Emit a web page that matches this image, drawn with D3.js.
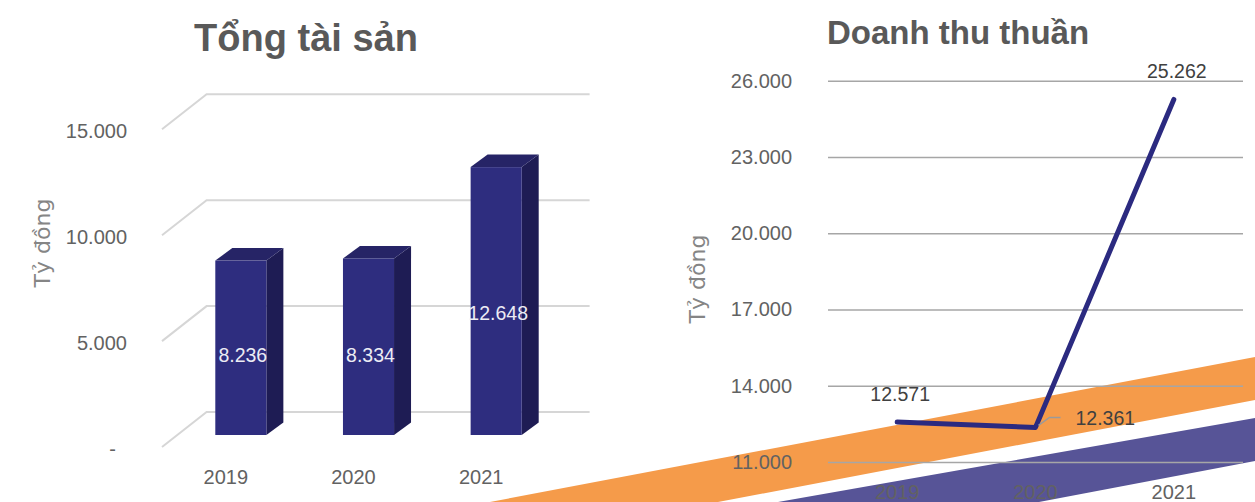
<!DOCTYPE html>
<meta charset="utf-8">
<style>

body {
  margin: 0;
  background: #fff;
}

text {
  font-family: "Liberation Sans", Arial, sans-serif;
}

.tick text {
  font-size: 20px;
  fill: #626262;
}

.chart-title {
  font-weight: bold;
  fill: #595959;
}

.axis-title {
  font-family: "DejaVu Sans", sans-serif;
  font-size: 22px;
  fill: #858585;
}

</style>
<svg width="1255" height="502"></svg>
<script src="https://cdn.jsdelivr.net/npm/d3@7"></script>
<script>
const years = ["2019", "2020", "2021"]

// Tổng tài sản (tỷ đồng)
const totalAssets = [8236, 8334, 12648]
const assetTicks = [0, 5000, 10000, 15000]

// Doanh thu thuần (tỷ đồng)
const revenue = [12571, 12361, 25262]
const revenueTicks = [11000, 14000, 17000, 20000, 23000, 26000]
const revenueLabelSide = ["above", "right", "above"]

const vn = d3.formatLocale({decimal: ",", thousands: ".", grouping: [3], currency: ["", ""]})
const fmt = vn.format(",d")

var svg = d3.select("svg")

// decorative stripes in the background
const stripe = d3.line()
svg.append("path")
    .attr("d", stripe([[490, 502], [1255, 357], [1255, 400], [718, 502]]) + "Z")
    .attr("fill", "#f59b4a")
svg.append("path")
    .attr("d", stripe([[778, 502], [1255, 418], [1255, 461], [1039, 502]]) + "Z")
    .attr("fill", "#575497")

// ---------- left: 3d column chart ----------
const backOff = [29.6, -23]   // bar plane -> back wall
const frontOff = [-15, 12]    // bar plane -> front edge of floor
const depth = [17, -12.5]     // thickness of each column

var xb = d3.scaleBand()
    .domain(years)
    .range([177, 560])
    .paddingInner(0.6)
    .paddingOuter(0.3)

var yb = d3.scaleLinear()
    .domain([0, 15000])
    .range([435, 117.3])

const left = svg.append("g")

left.append("text")
    .attr("class", "chart-title")
    .attr("x", 306)
    .attr("y", 51)
    .attr("text-anchor", "middle")
    .style("font-size", "38px")
    .text("Tổng tài sản")

// gridlines: diagonal on the floor side, then flat along the back wall
const x0 = xb.range()[0], x1 = xb.range()[1]
left.append("g")
  .selectAll("path")
  .data(assetTicks)
  .join("path")
    .attr("d", t => d3.line()([
      [x0 + frontOff[0], yb(t) + frontOff[1]],
      [x0 + backOff[0], yb(t) + backOff[1]],
      [x1 + backOff[0], yb(t) + backOff[1]]
    ]))
    .attr("fill", "none")
    .attr("stroke", "#d6d6d6")
    .attr("stroke-width", 2)

left.append("g")
    .attr("class", "tick")
  .selectAll("text")
  .data(assetTicks)
  .join("text")
    .attr("x", 127)
    .attr("y", t => yb(t) + frontOff[1] + 2)
    .attr("dy", "0.35em")
    .attr("text-anchor", "end")
    .text(t => t === 0 ? "-\u2007" : fmt(t))

left.append("g")
    .attr("class", "tick")
  .selectAll("text")
  .data(years)
  .join("text")
    .attr("x", d => xb(d) + xb.bandwidth() / 2 + frontOff[0])
    .attr("y", yb(0) + frontOff[1] + 30)
    .attr("dy", "0.35em")
    .attr("text-anchor", "middle")
    .text(d => d)

left.append("text")
    .attr("class", "axis-title")
    .attr("transform", "translate(42,243) rotate(-90)")
    .attr("text-anchor", "middle")
    .attr("dy", "0.35em")
    .text("Tỷ đồng")

const cols = left.append("g")
  .selectAll("g")
  .data(years.map((y, i) => ({year: y, value: totalAssets[i]})))
  .join("g")

cols.append("path")
    .attr("fill", "#1e1c54")
    .attr("d", d => {
      const x = xb(d.year) + xb.bandwidth(), top = yb(d.value), bot = yb(0)
      return d3.line()([[x, top], [x + depth[0], top + depth[1]], [x + depth[0], bot + depth[1]], [x, bot]]) + "Z"
    })

cols.append("path")
    .attr("fill", "#262466")
    .attr("d", d => {
      const x = xb(d.year), w = xb.bandwidth(), top = yb(d.value)
      return d3.line()([[x, top], [x + depth[0], top + depth[1]], [x + w + depth[0], top + depth[1]], [x + w, top]]) + "Z"
    })

cols.append("rect")
    .attr("x", d => xb(d.year))
    .attr("y", d => yb(d.value))
    .attr("width", xb.bandwidth())
    .attr("height", d => yb(0) - yb(d.value))
    .attr("fill", "#2e2d7f")

cols.append("text")
    .attr("x", d => xb(d.year) + xb.bandwidth() / 2 + 2)
    .attr("y", d => yb(d.value * 0.455))
    .attr("dy", "0.35em")
    .attr("text-anchor", "middle")
    .style("font-size", "19.5px")
    .attr("fill", "#ececf4")
    .text(d => fmt(d.value))

// ---------- right: line chart ----------
var xr = d3.scaleBand()
    .domain(years)
    .range([828, 1243])

var yr = d3.scaleLinear()
    .domain([11000, 26000])
    .range([462, 80.7])

const right = svg.append("g")

right.append("text")
    .attr("class", "chart-title")
    .attr("x", 827)
    .attr("y", 44)
    .style("font-size", "33px")
    .text("Doanh thu thuần")

right.append("g")
    .attr("transform", "translate(828,0)")
    .call(d3.axisLeft(yr)
      .tickValues(revenueTicks)
      .tickSize(-415)
      .tickPadding(36)
      .tickFormat(fmt))
    .call(g => g.select(".domain").remove())
    .call(g => g.selectAll(".tick line").attr("stroke", "#a6a6a6").attr("stroke-width", 1.5))
    .call(g => g.selectAll(".tick text").attr("font-family", null).attr("font-size", null))

right.append("g")
    .attr("transform", "translate(0,462)")
    .call(d3.axisBottom(xr).tickSize(0).tickPadding(23))
    .call(g => g.select(".domain").remove())
    .call(g => g.selectAll(".tick text").attr("font-family", null).attr("font-size", null))

right.append("text")
    .attr("class", "axis-title")
    .attr("transform", "translate(697,279) rotate(-90)")
    .attr("text-anchor", "middle")
    .attr("dy", "0.35em")
    .text("Tỷ đồng")

const pts = years.map((y, i) => ({
  year: y,
  value: revenue[i],
  side: revenueLabelSide[i],
  x: xr(y) + xr.bandwidth() / 2,
  y: yr(revenue[i])
}))

right.append("path")
    .datum(pts)
    .attr("fill", "none")
    .attr("stroke", "#2b2a80")
    .attr("stroke-width", 5)
    .attr("stroke-linecap", "round")
    .attr("stroke-linejoin", "round")
    .attr("d", d3.line().x(d => d.x).y(d => d.y))

// leader line for labels placed to the right
right.selectAll(".leader")
  .data(pts.filter(d => d.side === "right"))
  .join("path")
    .attr("class", "leader")
    .attr("fill", "none")
    .attr("stroke", "#9a9a9a")
    .attr("stroke-width", 1.5)
    .attr("d", d => d3.line()([[d.x + 3, d.y - 2], [d.x + 14, d.y - 10], [d.x + 25, d.y - 10]]))

right.selectAll(".dlabel")
  .data(pts)
  .join("text")
    .attr("class", "dlabel")
    .attr("x", d => d.side === "right" ? d.x + 40 : d.x + 3)
    .attr("y", d => d.side === "right" ? d.y - 9 : d.y - 28)
    .attr("dy", "0.35em")
    .attr("text-anchor", d => d.side === "right" ? "start" : "middle")
    .style("font-size", "19.5px")
    .attr("fill", "#404040")
    .text(d => fmt(d.value))

</script>
